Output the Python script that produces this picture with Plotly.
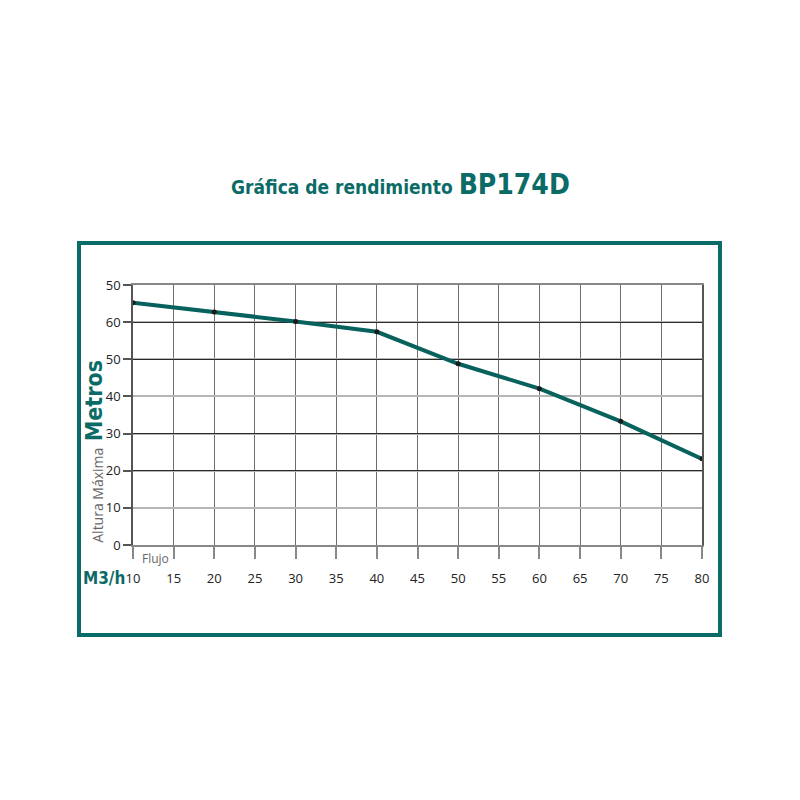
import plotly.graph_objects as go

# flujo (m3/h) vs altura máxima (metros)
flujo = [10, 20, 30, 40, 50, 60, 70, 80]
altura = [65.2, 62.7, 60.2, 57.4, 48.8, 42.1, 33.3, 23.2]

x_ticks = [10, 15, 20, 25, 30, 35, 40, 45, 50, 55, 60, 65, 70, 75, 80]
y_ticks = [0, 10, 20, 30, 40, 50, 60, 70]
y_labels = ["0", "10", "20", "30", "40", "50", "60", "50"]
y_dark = [20, 30, 50, 60]

TEAL = "#0b6b66"
LINE = "#07625e"
COND = "DejaVu Sans Condensed, Roboto Condensed, Roboto, sans-serif"

fig = go.Figure()
fig.add_trace(go.Scatter(
    x=flujo, y=altura, mode="lines+markers",
    line=dict(color=LINE, width=4),
    marker=dict(color="#1a1a1a", size=5),
    showlegend=False, hoverinfo="x+y",
))
# invisible trace so the second y axis (dark grid lines) is drawn
fig.add_trace(go.Scatter(x=[flujo[0]], y=[altura[0]], yaxis="y2", mode="markers",
                         marker=dict(opacity=0), showlegend=False, hoverinfo="skip"))

fig.update_layout(
    width=800, height=800,
    paper_bgcolor="white", plot_bgcolor="white",
    margin=dict(l=125, r=106, t=277, b=263),
    font=dict(family="Open Sans", size=13, color="#222"),
    xaxis=dict(
        range=[10, 80], tickvals=x_ticks, showgrid=True, gridcolor="#6e6e6e", gridwidth=1,
        ticks="outside", ticklen=12, tickcolor="#888", tickwidth=1.5,
        ticklabelstandoff=9,
        showline=True, linecolor="#888", linewidth=1.5, mirror=True, zeroline=False,
    ),
    yaxis=dict(
        range=[0, 70], tickvals=y_ticks, ticktext=y_labels, showgrid=True,
        gridcolor="#b5b5b5", gridwidth=1.5,
        ticks="outside", ticklen=8, tickcolor="#555", tickwidth=1.5,
        showline=True, linecolor="#555", linewidth=1.5, mirror=True, zeroline=False,
    ),
    yaxis2=dict(
        range=[0, 70], tickvals=y_dark, overlaying="y", showticklabels=False,
        showgrid=True, gridcolor="#2a2a2a", gridwidth=1, zeroline=False, showline=False,
    ),
)

# teal frame around the chart
fig.add_shape(type="rect", xref="paper", yref="paper",
              x0=-0.0949, x1=1.0316, y0=-0.346, y1=1.1615,
              line=dict(color=TEAL, width=4), fillcolor="rgba(0,0,0,0)", layer="below")

fig.add_annotation(
    xref="paper", yref="paper", x=0.471, y=1.385, xanchor="center", yanchor="middle", showarrow=False,
    text="<b style='font-size:19px'>Gráfica de rendimiento </b><b style='font-size:28px'>BP174D</b>",
    font=dict(family=COND, color=TEAL, size=19),
)
fig.add_annotation(
    xref="paper", yref="paper", x=-0.068, y=0.554, xanchor="center", yanchor="middle",
    showarrow=False, textangle=-90,
    text="<b>Metros</b>", font=dict(family=COND, color=TEAL, size=23),
)
fig.add_annotation(
    xref="paper", yref="paper", x=-0.063, y=0.19, xanchor="center", yanchor="middle",
    showarrow=False, textangle=-90,
    text="Altura Máxima", font=dict(family="Open Sans", color="#666", size=14),
)
fig.add_annotation(
    xref="paper", yref="paper", x=0.012, y=-0.05, xanchor="left", yanchor="middle", showarrow=False,
    text="Flujo", font=dict(family="Open Sans", color="#666", size=12),
)
fig.add_annotation(
    xref="paper", yref="paper", x=-0.011, y=-0.127, xanchor="right", yanchor="middle", showarrow=False,
    text="<b>M3/h</b>", font=dict(family=COND, color=TEAL, size=17),
)

fig.write_html("out.html")
